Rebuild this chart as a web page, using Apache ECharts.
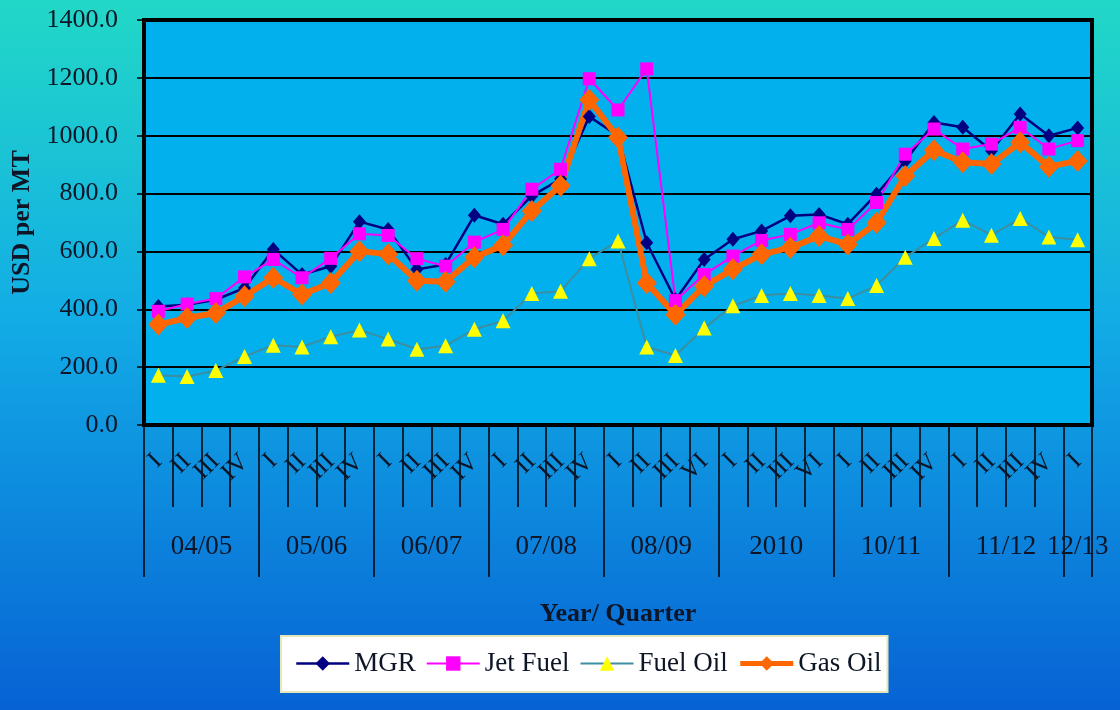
<!DOCTYPE html>
<html>
<head>
<meta charset="utf-8">
<script src="https://cdn.jsdelivr.net/npm/echarts@6/dist/echarts.min.js"></script>
<style>
  html, body { margin: 0; padding: 0; }
  #chart { width: 1120px; height: 710px; }
</style>
</head>
<body>
<div id="chart"></div>
<script>
// year groups and their quarters (source uses "VI" for two of them)
const years = ['04/05', '05/06', '06/07', '07/08', '08/09', '2010', '10/11', '11/12', '12/13']
const yearQuarters = [
    ['I', 'II', 'III', 'IV'],
    ['I', 'II', 'III', 'IV'],
    ['I', 'II', 'III', 'IV'],
    ['I', 'II', 'III', 'IV'],
    ['I', 'II', 'III', 'VI'],
    ['I', 'II', 'III', 'VI'],
    ['I', 'II', 'III', 'IV'],
    ['I', 'II', 'III', 'IV'],
    ['I']
]
const yTicks = [0, 200, 400, 600, 800, 1000, 1200, 1400]

const mgr = [410, 416, 433, 474, 607, 520, 549, 703, 676, 538, 555, 725, 694, 792, 850, 1066, 1000,
    630, 433, 572, 642, 671, 723, 728, 694, 798, 913, 1046, 1029, 948, 1075, 1000, 1027]
const jetFuel = [393, 418, 437, 512, 572, 509, 576, 661, 655, 575, 549, 632, 676, 815, 884, 1197, 1089,
    1231, 430, 520, 584, 638, 659, 699, 676, 769, 936, 1023, 954, 971, 1029, 954, 983]
const fuelOil = [172, 168, 188, 237, 276, 270, 305, 328, 297, 262, 274, 331, 360, 455, 462, 575, 636,
    270, 240, 335, 412, 448, 455, 448, 437, 482, 580, 645, 708, 656, 714, 650, 640]
const gasOil = [347, 370, 387, 445, 509, 451, 491, 601, 590, 499, 495, 580, 621, 740, 827, 1124, 994,
    491, 381, 480, 538, 590, 613, 653, 624, 699, 861, 950, 908, 902, 977, 893, 913]

// flatten categories
const quarters = []
const yearLabels = []
const yearStarts = []
yearQuarters.forEach(function (qs, yi) {
    yearStarts.push(quarters.length)
    const mid = Math.floor((qs.length - 1) / 2)
    qs.forEach(function (q, qi) {
        quarters.push(q)
        if (qi === mid) {
            // even group: nudge the label half a band to the right
            yearLabels.push(qs.length % 2 === 0 ? '{s|' + years[yi] + '}' : '{c|' + years[yi] + '}')
        } else {
            yearLabels.push('')
        }
    })
})

const serif = '"Liberation Serif", "DejaVu Serif", serif'
const ink = '#0d1526'
const chart = echarts.init(document.getElementById('chart'))

const option = {
    animation: false,
    backgroundColor: {
        type: 'linear', x: 0, y: 0, x2: 0, y2: 1,
        colorStops: [
            { offset: 0, color: '#22d8c6' },
            { offset: 0.45, color: '#12ace6' },
            { offset: 1, color: '#0762d4' }
        ]
    },
    grid: {
        left: 144,
        right: 28,
        top: 20,
        bottom: 285,
        show: true,
        backgroundColor: '#02b0ee',
        borderColor: '#000',
        borderWidth: 4
    },
    legend: {
        left: 281,
        top: 636,
        padding: [14, 6, 15, 14],
        itemGap: 10,
        itemWidth: 53,
        itemHeight: 18,
        backgroundColor: '#fff',
        borderColor: '#e6e6b8',
        borderWidth: 2,
        borderRadius: 0,
        textStyle: { fontFamily: serif, fontSize: 27, color: ink },
        data: [
            { name: 'MGR', lineStyle: { width: 2.5 } },
            { name: 'Jet Fuel', lineStyle: { width: 2 } },
            { name: 'Fuel Oil', lineStyle: { width: 2 } },
            { name: 'Gas Oil', lineStyle: { width: 5 } }
        ]
    },
    xAxis: [
        {
            type: 'category',
            data: quarters,
            boundaryGap: true,
            axisLine: { show: true, lineStyle: { color: '#000', width: 2 } },
            axisTick: { show: true, interval: 0, length: 82, lineStyle: { color: '#000', width: 1.5 } },
            axisLabel: {
                interval: 0,
                rotate: 45,
                margin: 33,
                fontFamily: serif,
                fontSize: 25,
                color: ink
            }
        },
        {
            type: 'category',
            data: yearLabels,
            position: 'bottom',
            boundaryGap: true,
            name: 'Year/ Quarter',
            nameLocation: 'middle',
            nameGap: 176,
            nameTextStyle: { fontFamily: serif, fontSize: 26, fontWeight: 'bold', color: ink },
            axisLine: { show: false },
            axisTick: {
                show: true,
                interval: function (index) { return yearStarts.indexOf(index) >= 0 },
                length: 152,
                lineStyle: { color: '#000', width: 1.5 }
            },
            axisLabel: {
                interval: 0,
                margin: 108,
                fontFamily: serif,
                fontSize: 27,
                color: ink,
                rich: {
                    s: { fontFamily: serif, fontSize: 27, color: ink, padding: [0, 0, 0, 29] },
                    c: { fontFamily: serif, fontSize: 27, color: ink }
                }
            }
        }
    ],
    yAxis: {
        type: 'value',
        min: yTicks[0],
        max: yTicks[yTicks.length - 1],
        interval: 200,
        name: 'USD per MT',
        nameLocation: 'middle',
        nameGap: 105,
        nameTextStyle: { fontFamily: serif, fontSize: 26, fontWeight: 'bold', color: ink },
        axisLine: { show: true, lineStyle: { color: '#000', width: 2 } },
        axisTick: { show: true, length: 7, lineStyle: { color: '#000', width: 1.5 } },
        axisLabel: {
            margin: 26,
            fontFamily: serif,
            fontSize: 26,
            color: ink,
            formatter: function (v) { return v.toFixed(1) }
        },
        splitLine: { show: true, lineStyle: { color: '#000', width: 2 } }
    },
    series: [
        {
            name: 'MGR',
            type: 'line',
            data: mgr,
            symbol: 'diamond',
            symbolSize: [13, 15],
            itemStyle: { color: '#000080' },
            lineStyle: { color: '#000080', width: 2.5 }
        },
        {
            name: 'Jet Fuel',
            type: 'line',
            data: jetFuel,
            symbol: 'rect',
            symbolSize: 13,
            itemStyle: { color: '#ff00ff' },
            lineStyle: { color: '#ff00ff', width: 2 }
        },
        {
            name: 'Fuel Oil',
            type: 'line',
            data: fuelOil,
            symbol: 'triangle',
            symbolSize: 15,
            itemStyle: { color: '#ffff00' },
            lineStyle: { color: '#3d8ea0', width: 2 }
        },
        {
            name: 'Gas Oil',
            type: 'line',
            data: gasOil,
            symbol: 'diamond',
            symbolSize: [20, 22],
            itemStyle: { color: '#ff6600' },
            lineStyle: { color: '#ff6600', width: 6 }
        }
    ]
}

chart.setOption(option)
</script>
</body>
</html>
